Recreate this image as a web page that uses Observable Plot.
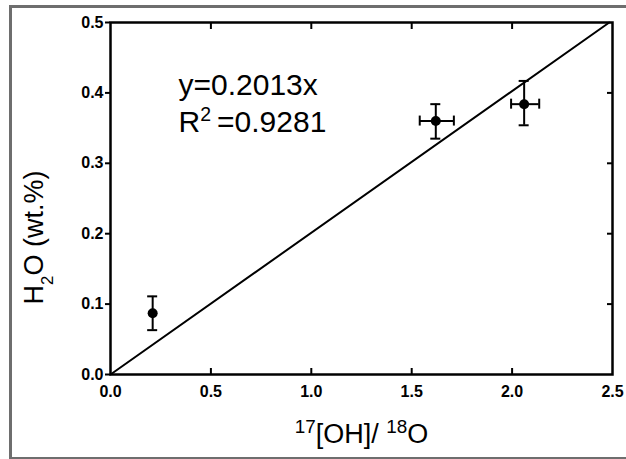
<!DOCTYPE html>
<html>
<head>
<meta charset="utf-8">
<script src="https://cdn.jsdelivr.net/npm/d3@7"></script>
<script src="https://cdn.jsdelivr.net/npm/@observablehq/plot@0.6"></script>
<style>
  html, body { margin: 0; padding: 0; background: white; }
  #wrap { position: relative; width: 626px; height: 459px; overflow: hidden; }
  #border { position: absolute; left: 9px; top: 5px; width: 700px; height: 449px; border: 3px solid #6e6e6e; box-sizing: content-box; }
  #chart { position: absolute; left: 0; top: 0; }
</style>
</head>
<body>
<div id="wrap"><div id="border"></div><div id="chart"></div></div>
<script>
// Data
const xVals  = [0.21, 1.62, 2.06];
const yVals  = [0.087, 0.36, 0.384];
const yLow   = [0.063, 0.335, 0.354];
const yHigh  = [0.111, 0.384, 0.417];
const xLow   = [null, 1.54, 1.995];
const xHigh  = [null, 1.71, 2.135];
const slope  = 0.2013;
const r2     = 0.9281;
const xTicks = [0, 0.5, 1.0, 1.5, 2.0, 2.5];
const yTicks = [0, 0.1, 0.2, 0.3, 0.4, 0.5];
const xTitle = "17[OH]/ 18O";
const yTitle = "H2O (wt.%)";
const eqText = `y=${slope}x`;
const r2Text = `R2=${r2}`;

const points = xVals.map((x, i) => ({x, y: yVals[i], y1: yLow[i], y2: yHigh[i], x1: xLow[i], x2: xHigh[i]}));
const xErr = points.filter(d => d.x1 != null);
const yMax = d3.max(yTicks);
const fit = [{x: 0, y: 0}, {x: yMax / slope, y: yMax}];

const font = "'Liberation Sans', Arial, sans-serif";
const inner = xTicks.slice(1, -1);
const innerY = yTicks.slice(1, -1);

const chart = Plot.plot({
  width: 626,
  height: 459,
  marginLeft: 110,
  marginRight: 14,
  marginTop: 22,
  marginBottom: 85,
  style: {fontFamily: font, background: "transparent", color: "black"},
  x: {domain: [0, 2.5]},
  y: {domain: [0, 0.5]},
  marks: [
    Plot.axisY({anchor: "left", ticks: yTicks, tickFormat: d3.format(".1f"), tickSize: 5, tickPadding: 2, fontSize: 16, fontWeight: "bold", strokeWidth: 2, label: null}),
    Plot.axisY({anchor: "right", ticks: innerY, tickSize: -6, text: null, strokeWidth: 2, label: null}),
    Plot.axisX({anchor: "bottom", ticks: xTicks, tickFormat: d3.format(".1f"), tickSize: 0, tickPadding: 11, fontSize: 16, fontWeight: "bold", label: null}),
    Plot.axisX({anchor: "bottom", ticks: inner, tickSize: -6, text: null, strokeWidth: 2, label: null}),
    Plot.axisX({anchor: "top", ticks: inner, tickSize: -6, text: null, strokeWidth: 2, label: null}),
    Plot.frame({strokeWidth: 2.5}),
    // fit line
    Plot.line(fit, {x: "x", y: "y", strokeWidth: 2}),
    // vertical error bars
    Plot.ruleX(points, {x: "x", y1: "y1", y2: "y2", strokeWidth: 2}),
    Plot.ruleY(points, {y: "y1", x1: "x", x2: "x", insetLeft: -5, insetRight: -5, strokeWidth: 2}),
    Plot.ruleY(points, {y: "y2", x1: "x", x2: "x", insetLeft: -5, insetRight: -5, strokeWidth: 2}),
    // horizontal error bars
    Plot.ruleY(xErr, {y: "y", x1: "x1", x2: "x2", strokeWidth: 2}),
    Plot.ruleX(xErr, {x: "x1", y1: "y", y2: "y", insetTop: -5, insetBottom: -5, strokeWidth: 2}),
    Plot.ruleX(xErr, {x: "x2", y1: "y", y2: "y", insetTop: -5, insetBottom: -5, strokeWidth: 2}),
    // points
    Plot.dot(points, {x: "x", y: "y", r: 5, fill: "black", stroke: "none"}),
    // annotation
    Plot.text([eqText], {frameAnchor: "top-left", dx: 68, dy: 63, textAnchor: "start", lineAnchor: "middle", fontSize: 30}),
    Plot.text([r2Text], {frameAnchor: "top-left", dx: 68, dy: 100, textAnchor: "start", lineAnchor: "middle", fontSize: 30}),
    // axis titles
    Plot.text([xTitle], {frameAnchor: "bottom", dy: 60, textAnchor: "middle", lineAnchor: "middle", fontSize: 27}),
    Plot.text([yTitle], {frameAnchor: "left", dx: -76, dy: 39, rotate: -90, textAnchor: "middle", lineAnchor: "middle", fontSize: 27})
  ]
});

function rich(el, parts) {
  el.textContent = "";
  for (const [s, kind, size] of parts) {
    const t = el.appendChild(document.createElementNS("http://www.w3.org/2000/svg", "tspan"));
    t.textContent = s;
    if (kind === "sup") { t.setAttribute("font-size", size || "70%"); t.setAttribute("baseline-shift", "super"); }
    if (kind === "sub") { t.setAttribute("font-size", size || "62%"); t.setAttribute("baseline-shift", "sub"); }
  }
}
d3.select(chart).selectAll("text").each(function() {
  const s = this.textContent;
  if (s === xTitle) rich(this, [["17", "sup"], ["[OH]/ ", null], ["18", "sup"], ["O", null]]);
  else if (s === yTitle) rich(this, [["H", null], ["2", "sub"], ["O (wt.%)", null]]);
  else if (s === r2Text) rich(this, [["R", null], ["2", "sup", "65%"], [`\u2009=${r2}`, null]]);
});

document.getElementById("chart").appendChild(chart);
</script>
</body>
</html>
